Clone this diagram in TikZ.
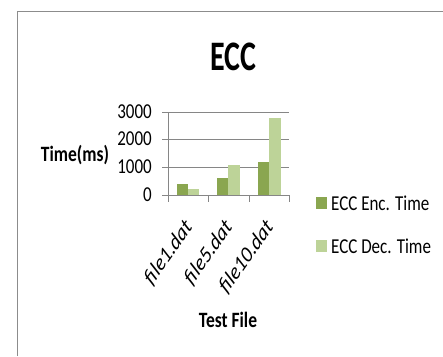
\documentclass[tikz,border=0pt]{standalone}
\usepackage{fontspec}
\setmainfont{Carlito}
\usepackage{graphicx}
\definecolor{enc}{HTML}{8AA650}
\definecolor{dec}{HTML}{BDD398}
\definecolor{gridc}{HTML}{868686}
\definecolor{framec}{HTML}{8C8C8C}
\newcommand{\tallt}[2][1.25]{\scalebox{1}[#1]{#2}}
\newcommand{\slantlab}[1]{\scalebox{1}[1.2]{\rotatebox{50}{#1}}}
\begin{document}
\begin{tikzpicture}[x=1pt,y=-1pt,
  gridline/.style={draw=gridc,line width=0.8pt},
  ticklab/.style={anchor=east,inner sep=0pt,font=\fontsize{17}{17}\selectfont},
  catlab/.style={anchor=north east,inner sep=0pt,font=\fontsize{19}{19}\selectfont\itshape},
  leglab/.style={anchor=base west,inner sep=0pt,font=\fontsize{17}{17}\selectfont},
  boldlab/.style={inner sep=0pt,font=\fontsize{17.5}{17}\selectfont\bfseries}]
\useasboundingbox (0,0) rectangle (443,356);
\fill[white] (0,0) rectangle (443,356);
\draw[framec,line width=1pt] (17,356) -- (17,11) -- (443,11);
% title
\node[inner sep=0pt,font=\fontsize{30}{30}\selectfont\bfseries] (title) at (233,57) {\tallt[1.4]{ECC}};
% gridlines
\foreach \v/\yy in {1000/167,2000/139,3000/112}{
  \draw[gridline] (162,\yy) -- (289,\yy);
}
% bars
\fill[enc] (177,195) rectangle (188,184.2);
\fill[dec] (188,195) rectangle (199,189.2);
\fill[enc] (217,195) rectangle (228,177.8);
\fill[dec] (228,195) rectangle (240,165.1);
\fill[enc] (258,195) rectangle (269,161.8);
\fill[dec] (269,195) rectangle (281,118.1);
% axes
\draw[gridline] (168,112) -- (168,195);
\draw[gridline] (162,195) -- (289,195);
\foreach \xx in {168,208,249,289}{
  \draw[gridline] (\xx,195) -- (\xx,202);
}
% tick labels
\node[ticklab] (t0) at (152,195) {\tallt{0}};
\node[ticklab] (t1) at (152,167) {\tallt{1000}};
\node[ticklab] (t2) at (152,139) {\tallt{2000}};
\node[ticklab] (t3) at (152,112) {\tallt{3000}};
% category labels
\node[catlab] (c1) at (195,217) {\slantlab{file1.dat}};
\node[catlab] (c2) at (235,217) {\slantlab{file5.dat}};
\node[catlab] (c3) at (276,217) {\slantlab{file10.dat}};
% axis titles
\node[boldlab] (ylab) at (75,155) {\tallt{Time(ms)}};
\node[boldlab] (xlab) at (228,320) {\tallt{Test File}};
% legend
\fill[enc] (316,197) rectangle (327,209);
\fill[dec] (316,240) rectangle (327,252);
\node[leglab] (l1) at (331,210) {\tallt{ECC Enc. Time}};
\node[leglab] (l2) at (331,253) {\tallt{ECC Dec. Time}};
\end{tikzpicture}
\end{document}
